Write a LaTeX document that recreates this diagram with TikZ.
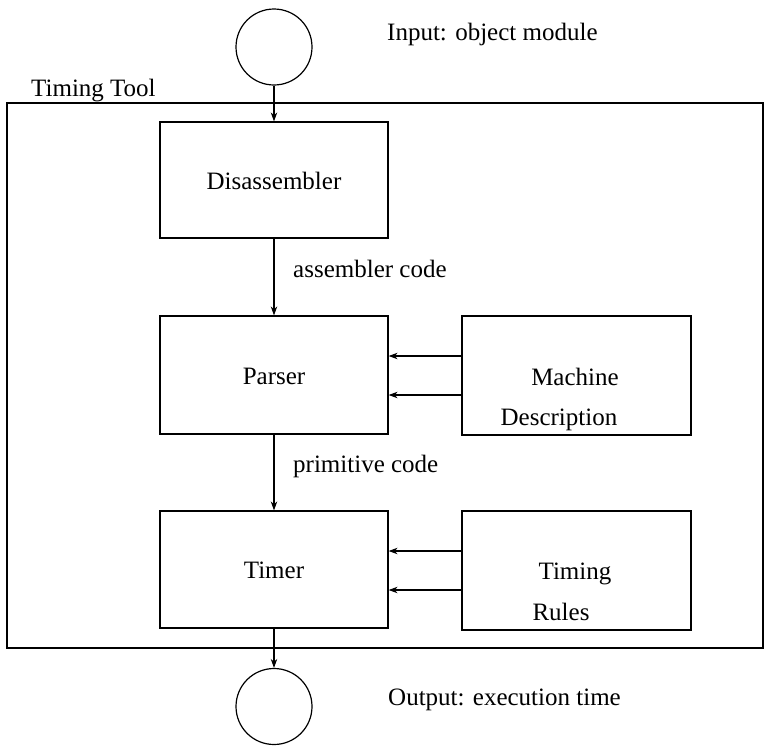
\documentclass[tikz,border=0pt]{standalone}
\usepackage{fontspec}
\setmainfont{Liberation Serif}
\usetikzlibrary{arrows.meta}
\begin{document}
\begin{tikzpicture}[x=1pt,y=-1pt,
  box/.style={draw,line width=1.2pt,inner sep=0pt,font=\fontsize{25}{30}\selectfont,text height=18pt,text depth=0pt},
  lbl/.style={font=\fontsize{25}{30}\selectfont,inner sep=0pt,anchor=base west},
  ctr/.style={font=\fontsize{25}{30}\selectfont,inner sep=0pt,anchor=base},
  arr/.style={-{Stealth[length=9pt,width=6.5pt]},line width=1.2pt},
  io/.style={draw,circle,line width=1.2pt,minimum size=76pt,inner sep=0pt}]
\useasboundingbox (0,0) rectangle (764,748);
% frame
\node[draw,line width=1.2pt,inner sep=0pt,minimum width=756pt,minimum height=545pt] (frame) at (385,375.5) {};
\node[lbl] (tt) at (31,96) {Timing Tool};
% io circles
\node[io] (cin) at (274,47) {};
\node[io] (cout) at (274,706.5) {};
\node[lbl] (inp) at (387,40) {Input: object module};
\node[lbl] (outp) at (388,705) {Output: execution time};
% left column
\node[box,minimum width=228pt,minimum height=116pt] (dis) at (274,180) {Disassembler};
\node[box,minimum width=228pt,minimum height=118pt] (par) at (274,375) {Parser};
\node[box,minimum width=228pt,minimum height=117pt] (tim) at (274,569.5) {Timer};
% right column
\node[box,minimum width=229pt,minimum height=119pt] (md) at (576.5,375.5) {};
\node[box,minimum width=229pt,minimum height=119pt] (tr) at (576.5,570.5) {};
\node[ctr] (md1) at (575,385) {Machine};
\node[ctr] (md2) at (559,425) {Description};
\node[ctr] (tr1) at (575,579) {Timing};
\node[ctr] (tr2) at (561,620) {Rules};
% flow labels
\node[lbl] (ac) at (293,277) {assembler code};
\node[lbl] (pc) at (293,472) {primitive code};
% connectors
\draw[arr] (cin) -- (dis);
\draw[arr] (dis) -- (par);
\draw[arr] (par) -- (tim);
\draw[arr] (tim) -- (cout);
\draw[arr] (md.west |- 0,356) -- (par.east |- 0,356);
\draw[arr] (md.west |- 0,395) -- (par.east |- 0,395);
\draw[arr] (tr.west |- 0,551) -- (tim.east |- 0,551);
\draw[arr] (tr.west |- 0,590) -- (tim.east |- 0,590);
\end{tikzpicture}
\end{document}
